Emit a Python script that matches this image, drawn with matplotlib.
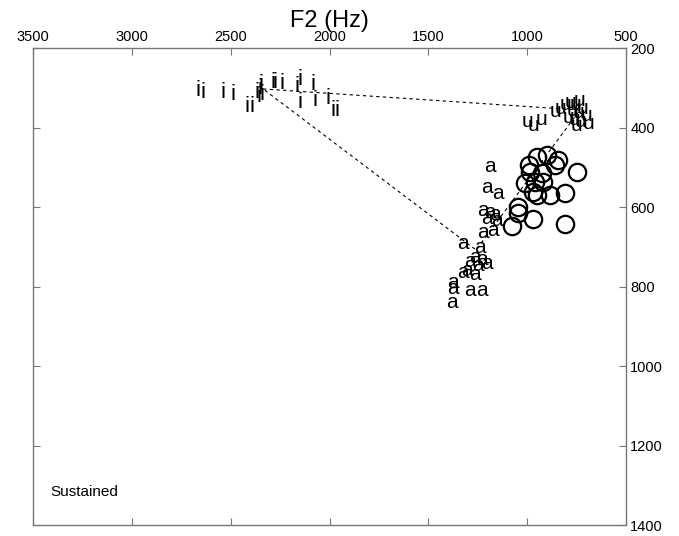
import matplotlib
matplotlib.use("Agg")
import matplotlib.pyplot as plt

plt.rcParams['font.family'] = ['Liberation Sans', 'DejaVu Sans']

# vowel tokens (F2, F1) in Hz
i_f2 = [2665, 2640, 2539, 2488, 2417, 2392, 2367, 2352, 2347, 2341, 2357,
        2286, 2276, 2240, 2164, 2149, 2149, 2083, 2073, 2008, 1982, 1962]
i_f1 = [308, 311, 311, 318, 348, 346, 311, 301, 291, 316, 321,
        286, 286, 288, 296, 280, 338, 293, 331, 326, 356, 356]

u_f2 = [996, 970, 930, 859, 834, 804, 783, 773, 758, 743, 793, 763,
        733, 718, 702, 728, 753, 692]
u_f1 = [386, 396, 379, 359, 351, 343, 336, 356, 341, 361, 376, 381,
        331, 351, 371, 386, 396, 389]

a_f2 = [1188, 1203, 1148, 1223, 1188, 1163, 1203, 1153, 1223, 1173, 1325,
        1239, 1289, 1264, 1229, 1203, 1249, 1304, 1325, 1264, 1375, 1375,
        1289, 1229, 1380]
a_f1 = [499, 550, 565, 608, 613, 620, 628, 633, 663, 658, 691,
        703, 738, 728, 733, 741, 748, 759, 764, 771, 791, 804,
        809, 809, 839]

o_f2 = [950, 900, 844, 991, 859, 748, 986, 925, 1011, 960, 920, 970,
        950, 885, 809, 1046, 1046, 970, 1077, 809]
o_f1 = [474, 469, 482, 494, 494, 512, 512, 515, 540, 537, 537, 562,
        570, 570, 565, 600, 615, 630, 648, 643]

# triangle vertices (i, u, a)
tri_labels = ['i', 'u', 'a']
tri_f2 = [2336, 733, 1259]
tri_f1 = [303, 356, 708]

x_ticks = [3500, 3000, 2500, 2000, 1500, 1000, 500]
y_ticks = [200, 400, 600, 800, 1000, 1200, 1400]

fig = plt.figure(figsize=(6.79, 5.36), dpi=100)
ax = fig.add_axes([0.0486, 0.0205, 0.8734, 0.8899])

ax.set_xlim(3500, 500)
ax.set_ylim(1400, 200)

# triangle
ax.plot(tri_f2 + [tri_f2[0]], tri_f1 + [tri_f1[0]], linestyle=(0, (3, 3)),
        color='black', linewidth=0.8, zorder=1)

for x, y in zip(i_f2, i_f1):
    ax.text(x, y, 'i', ha='center', va='center', fontsize=16, zorder=3)
for x, y in zip(u_f2, u_f1):
    ax.text(x, y, 'u', ha='center', va='center', fontsize=15, zorder=3)
for x, y in zip(a_f2, a_f1):
    ax.text(x, y, 'a', ha='center', va='center', fontsize=15, zorder=3)
ax.plot(o_f2, o_f1, linestyle='none', marker='o', markersize=12.5,
        markerfacecolor='none', markeredgecolor='black', markeredgewidth=1.6,
        zorder=2)

ax.set_xticks(x_ticks)
ax.set_yticks(y_ticks)
ax.xaxis.tick_top()
ax.yaxis.tick_right()
ax.tick_params(axis='both', direction='in', length=5, color='#777777',
               labelsize=10.5, top=True, bottom=True, left=True, right=True,
               labeltop=True, labelbottom=False, labelleft=False,
               labelright=True, pad=3)
for s in ax.spines.values():
    s.set_color('#777777')
    s.set_linewidth(1.0)

ax.set_xlabel('F2 (Hz)', fontsize=17)
ax.xaxis.set_label_position('top')
ax.xaxis.labelpad = 2

ax.text(0.03, 0.07, 'Sustained', transform=ax.transAxes, fontsize=11,
        ha='left', va='center')

fig.savefig('out.png', dpi=100)
